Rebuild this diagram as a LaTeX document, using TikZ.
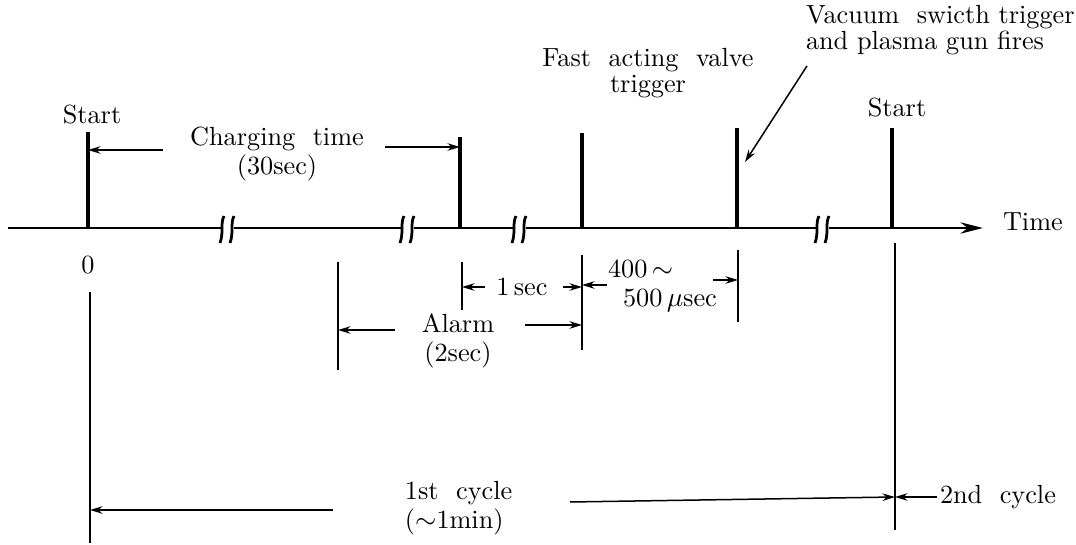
\documentclass[tikz,border=0pt]{standalone}
\usetikzlibrary{arrows.meta}

\tikzset{
  lbl/.style={inner sep=1pt,font=\fontsize{10.5}{10.5}\selectfont},
  pulse/.style={line width=1.6pt},
  axisline/.style={line width=1.1pt},
  extline/.style={line width=0.5pt},
  dimarrow/.style={line width=0.6pt,-{Stealth[length=5pt,width=3pt]}},
}

\begin{document}
\begin{tikzpicture}[x=0.4pt,y=-0.4pt]
  \useasboundingbox (0,0) rectangle (1076,545);
  \def\axisy{228}

  % time axis with breaks
  \draw[axisline] (8,\axisy) -- (222,\axisy);
  \draw[axisline] (234,\axisy) -- (402,\axisy);
  \draw[axisline] (414,\axisy) -- (514,\axisy);
  \draw[axisline] (526,\axisy) -- (817,\axisy);
  \coordinate (tend) at (983,\axisy);
  \draw[axisline,-{Stealth[length=9pt,width=4.5pt]}] (829,\axisy) -- (tend);
  \foreach \bx in {228,408,520,823} {
    \draw[axisline] (\bx-8,\axisy+15) .. controls (\bx-4,\axisy+4) and (\bx-8,\axisy-4) .. (\bx-4,\axisy-12);
    \draw[axisline] (\bx+2,\axisy+15) .. controls (\bx+6,\axisy+4) and (\bx+2,\axisy-4) .. (\bx+6,\axisy-12);
  }

  % pulses
  \foreach \name/\xx/\top in {p0/88/132,p1/460/137,p2/582/133,p3/737/128,p4/892/128} {
    \coordinate (\name) at (\xx,\axisy);
    \coordinate (\name top) at (\xx,\top);
    \draw[pulse] (\name) -- (\name top);
  }

  % labels
  \node[lbl] (start1) at (92,115) {Start};
  \node[lbl] (start2) at (897,108) {Start};
  \node[lbl] (zero) at (88,265) {0};
  \node[lbl,anchor=west] (time) at (1000,222) {Time};
  \node[lbl,align=center] (charge) at (277,154) {Charging\ \ time\\[1pt](30sec)};
  \node[lbl,align=center] (valve) at (648,73) {Fast\ \ acting\ \ valve\\trigger};
  \node[lbl,align=left,anchor=west] (vacuum) at (803,30) {Vacuum\ \ swicth trigger\\and plasma gun fires};
  \node[lbl] (onesec) at (522,287) {1\,sec};
  \node[lbl,align=left,anchor=west] (usec) at (605,286) {400\,$\sim$\\[1pt]\hspace{6pt}500\,$\mu$sec};
  \node[lbl,align=center] (alarm) at (458,341) {Alarm\\[1pt](2sec)};
  \node[lbl,align=left,anchor=west] (cycle1) at (402,508) {1st\ \ cycle\\[1pt]($\sim$1min)};
  \node[lbl,anchor=west] (cycle2) at (937,497) {2nd\ \ cycle};

  % extension lines below the axis
  \foreach \name/\xx/\ya/\yb in {e0/90/292/543,ea/338/262/370,e1/462/262/310,e2/582/255/350,e3/738/250/322,e4/895/243/530} {
    \coordinate (\name a) at (\xx,\ya);
    \coordinate (\name b) at (\xx,\yb);
    \draw[extline] (\name a) -- (\name b);
  }

  % dimension arrows
  \coordinate (chgL) at (163,150);
  \coordinate (chgR) at (385,147);
  \draw[dimarrow] (chgL) -- (chgL -| p0);
  \draw[dimarrow] (chgR) -- (chgR -| p1);
  \coordinate (secL) at (485,287);
  \coordinate (secR) at (563,287);
  \draw[dimarrow] (secL) -- (secL -| e1a);
  \draw[dimarrow] (secR) -- (secR -| e2a);
  \coordinate (usL) at (607,285);
  \coordinate (usR) at (713,280);
  \draw[dimarrow] (usL) -- (usL -| e2a);
  \draw[dimarrow] (usR) -- (usR -| e3a);
  \coordinate (alL) at (395,330);
  \coordinate (alR) at (525,325);
  \draw[dimarrow] (alL) -- (alL -| eaa);
  \draw[dimarrow] (alR) -- (alR -| e2a);
  \coordinate (cyL) at (333,510);
  \coordinate (cyR) at (570,502);
  \coordinate (cyE) at (895,497);
  \draw[dimarrow] (cyL) -- (cyL -| e0a);
  \draw[dimarrow] (cyR) -- (cyE);
  \draw[dimarrow] (cycle2.west) -- (cyE);

  % pointer to the vacuum switch pulse
  \coordinate (vacTip) at (745,162);
  \draw[dimarrow] (vacuum.south west) ++(4,8) -- (vacTip);
\end{tikzpicture}
\end{document}
